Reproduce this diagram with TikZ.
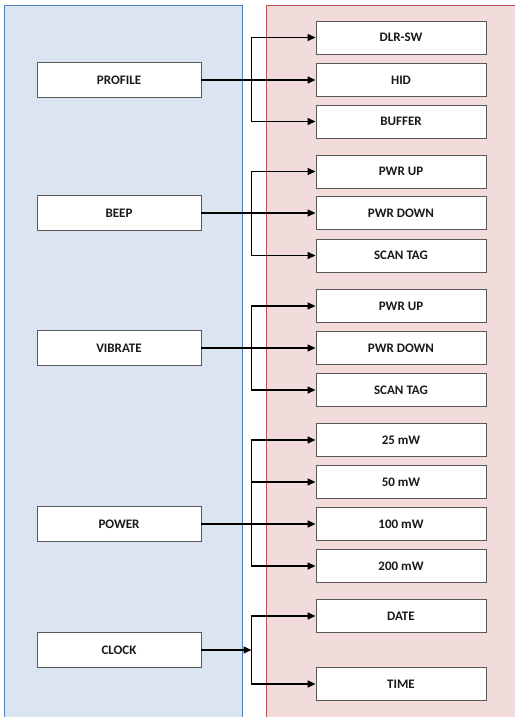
\documentclass[tikz,border=0pt]{standalone}
\usepackage{fontspec}
\setmainfont{Carlito}
\usetikzlibrary{arrows.meta,calc}
\definecolor{lblue}{HTML}{DBE5F1}
\definecolor{dblue}{HTML}{4F81BD}
\definecolor{lred}{HTML}{F2DCDB}
\definecolor{dred}{HTML}{C0504D}
\definecolor{boxline}{HTML}{595959}
\tikzset{
  panel/.style={line width=0.8bp},
  lbox/.style={draw=boxline, fill=white, line width=0.9bp, minimum width=164bp, minimum height=35bp, inner sep=0pt, font=\bfseries\fontsize{13bp}{15bp}\selectfont, text=black!90},
  rbox/.style={draw=boxline, fill=white, line width=0.9bp, minimum width=170bp, minimum height=33bp, inner sep=0pt, font=\bfseries\fontsize{13bp}{15bp}\selectfont, text=black!90},
  arr/.style={draw=black, line width=1.4bp, -{Triangle[length=8bp,width=7bp]}}
}
\begin{document}
\begin{tikzpicture}[x=1bp,y=-1bp]
\useasboundingbox (0,0) rectangle (515,717);
\fill[lblue] (4,5) rectangle (242,725);
\draw[panel,dblue] (4,725) -- (4,5) -- (242,5) -- (242,725);
\fill[lred] (266,5) rectangle (525,725);
\draw[panel,dred] (266,725) -- (266,5) -- (525,5);

\coordinate (bx) at (251.5,0);

% left boxes
\node[lbox] (profile) at (119,80) {PROFILE};
\node[lbox] (beep) at (119,213) {BEEP};
\node[lbox] (vibrate) at (119,348) {VIBRATE};
\node[lbox] (power) at (119,524) {POWER};
\node[lbox] (clock) at (119,650) {CLOCK};

% right boxes
\node[rbox] (dlr) at (401,37.5) {DLR-SW};
\node[rbox] (hid) at (401,80) {HID};
\node[rbox] (buffer) at (401,121.5) {BUFFER};
\node[rbox] (bup) at (401,171.5) {PWR UP};
\node[rbox] (bdown) at (401,213) {PWR DOWN};
\node[rbox] (bscan) at (401,255.5) {SCAN TAG};
\node[rbox] (vup) at (401,306) {PWR UP};
\node[rbox] (vdown) at (401,348) {PWR DOWN};
\node[rbox] (vscan) at (401,390) {SCAN TAG};
\node[rbox] (p25) at (401,440) {25 mW};
\node[rbox] (p50) at (401,482) {50 mW};
\node[rbox] (p100) at (401,524) {100 mW};
\node[rbox] (p200) at (401,566) {200 mW};
\node[rbox] (date) at (401,616) {DATE};
\node[rbox] (time) at (401,684) {TIME};

% profile
\draw[arr] (profile.east) -- (hid.west);
\draw[arr] (profile.east -| bx) |- (dlr.west);
\draw[arr] (profile.east -| bx) |- (buffer.west);
% beep
\draw[arr] (beep.east) -- (bdown.west);
\draw[arr] (beep.east -| bx) |- (bup.west);
\draw[arr] (beep.east -| bx) |- (bscan.west);
% vibrate
\draw[arr] (vibrate.east) -- (vdown.west);
\draw[arr] (vibrate.east -| bx) |- (vup.west);
\draw[arr] (vibrate.east -| bx) |- (vscan.west);
% power
\draw[arr] (power.east) -- (p100.west);
\draw[arr] (power.east -| bx) |- (p25.west);
\draw[arr] (power.east -| bx) |- (p50.west);
\draw[arr] (power.east -| bx) |- (p200.west);
% clock
\draw[arr] (clock.east) -- (clock.east -| bx);
\draw[arr] (clock.east -| bx) |- (date.west);
\draw[arr] (clock.east -| bx) |- (time.west);
\end{tikzpicture}
\end{document}
